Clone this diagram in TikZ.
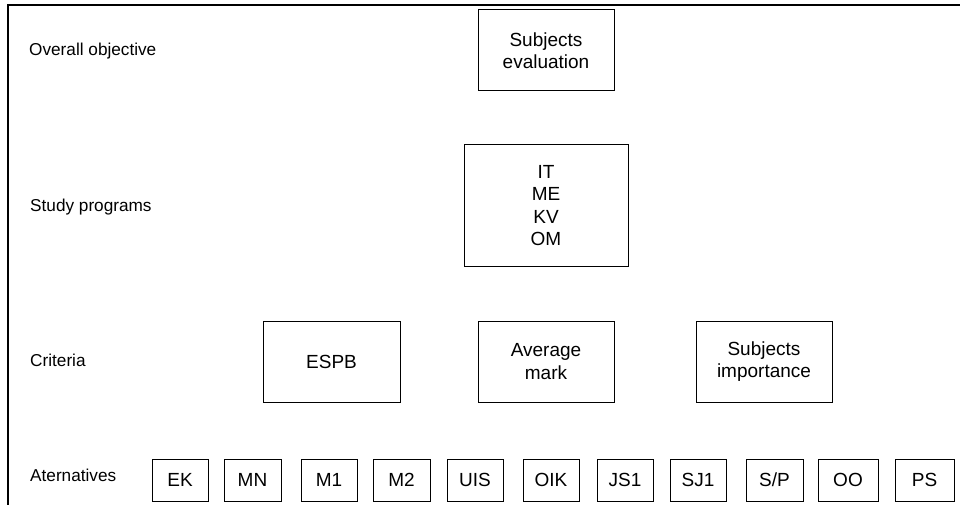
\documentclass[tikz,border=0pt]{standalone}
\usepackage{fontspec}
\setmainfont{Liberation Sans}
\begin{document}
\begin{tikzpicture}[x=1pt,y=-1pt,
  frameline/.style={line width=2pt},
  lvl/.style={anchor=base west,inner sep=0pt,font=\fontsize{17.2}{21}\selectfont},
  bigbox/.style={draw,line width=1pt,inner sep=0pt,align=center,font=\fontsize{19}{22.5}\selectfont},
  altbox/.style={draw,line width=1pt,inner sep=0pt,minimum width=56pt,minimum height=42pt,font=\fontsize{19}{22.5}\selectfont}]
\useasboundingbox (0,0) rectangle (960,505);
% frame
\coordinate (ftl) at (8,5.5);
\coordinate (ftr) at (960,5.5);
\coordinate (fbl) at (8,505);
\draw[frameline] (ftr) -- (ftl) -- (fbl);
% level labels
\node[lvl] (l1) at (29,56) {Overall objective};
\node[lvl] (l2) at (30,211) {Study programs};
\node[lvl] (l3) at (30,366) {Criteria};
\node[lvl] (l4) at (30,481) {Aternatives};
% boxes
\node[bigbox,minimum width=136pt,minimum height=81pt] (goal) at (546,50.5) {Subjects\\evaluation};
\node[bigbox,minimum width=164pt,minimum height=121pt] (prog) at (546,205.5) {IT\\ME\\KV\\OM};
\node[bigbox,minimum width=137pt,minimum height=81pt] (espb) at (331.5,361.5) {ESPB};
\node[bigbox,minimum width=136pt,minimum height=81pt] (avg) at (546,361.5) {Average\\mark};
\node[bigbox,minimum width=136pt,minimum height=81pt] (imp) at (764,361.5) {Subjects\\importance};
% alternatives
\node[altbox] (a1) at (180,480) {EK};
\node[altbox,minimum width=57pt] (a2) at (252.5,480) {MN};
\node[altbox] (a3) at (329,480) {M1};
\node[altbox,minimum width=57pt] (a4) at (401.5,480) {M2};
\node[altbox] (a5) at (475,480) {UIS};
\node[altbox] (a6) at (551,480) {OIK};
\node[altbox] (a7) at (625,480) {JS1};
\node[altbox] (a8) at (698,480) {SJ1};
\node[altbox,minimum width=57pt] (a9) at (774.5,480) {S/P};
\node[altbox,minimum width=60pt] (a10) at (848,480) {OO};
\node[altbox,minimum width=59pt] (a11) at (924.5,480) {PS};
\end{tikzpicture}
\end{document}
